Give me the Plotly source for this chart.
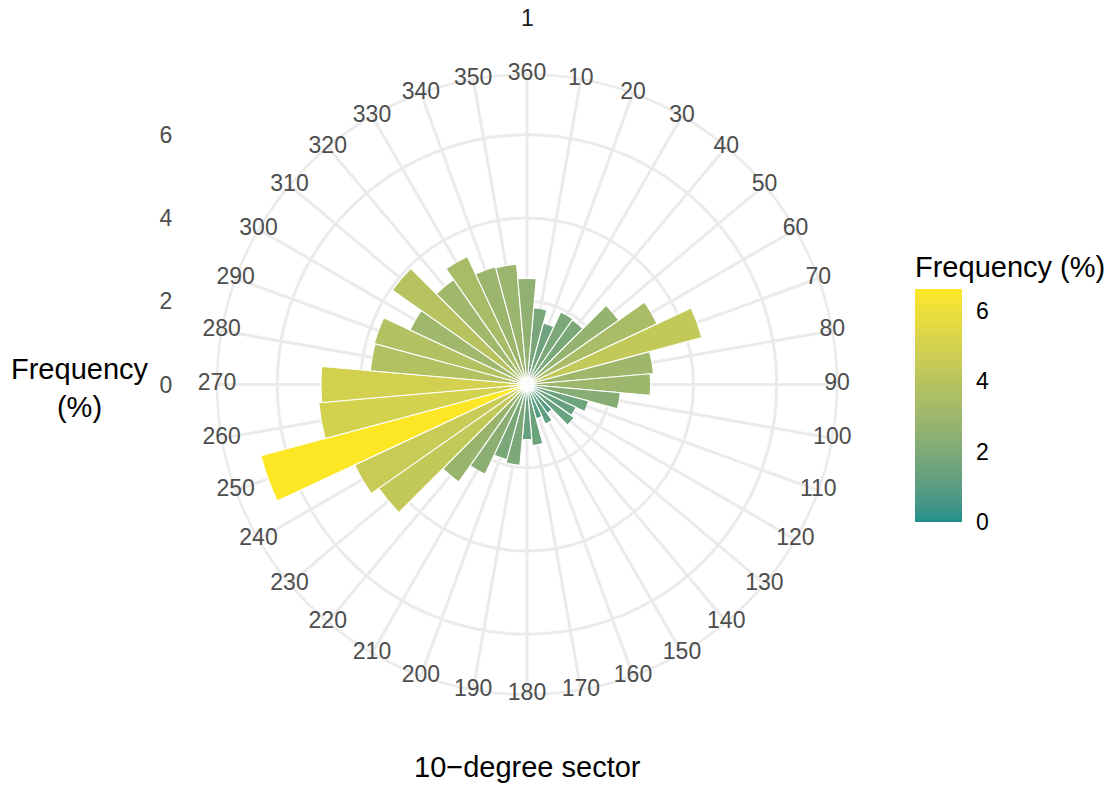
import plotly.graph_objects as go

# ---------------- data ----------------
sectors = [10, 20, 30, 40, 50, 60, 70, 80, 90, 100, 110, 120,
           130, 140, 150, 160, 170, 180, 190, 200, 210, 220, 230, 240,
           250, 260, 270, 280, 290, 300, 310, 320, 330, 340, 350, 360]
sector_labels = [str(s) for s in sectors]
frequency = [1.85, 1.53, 1.92, 1.90, 2.69, 3.45, 4.35, 3.05, 2.97, 2.25, 1.53, 1.30,
             1.38, 0.85, 1.05, 0.85, 1.47, 1.32, 1.95, 1.87, 2.38, 2.86, 4.35, 4.57,
             6.62, 5.02, 4.95, 3.78, 3.80, 3.10, 3.95, 3.08, 3.39, 2.93, 2.90, 2.55]
radial_ticks = [0, 2, 4, 6]
colorbar_ticks = [0, 2, 4, 6]
facet_label = "1"

# ---------------- colour scale (Lab interpolation, like ggplot gradient) ----------------
def _srgb_to_lin(c):
    c = c / 255.0
    return c / 12.92 if c <= 0.04045 else ((c + 0.055) / 1.055) ** 2.4

def _lin_to_srgb(c):
    c = max(0.0, min(1.0, c))
    v = 12.92 * c if c <= 0.0031308 else 1.055 * c ** (1 / 2.4) - 0.055
    return int(round(max(0, min(1, v)) * 255))

_WX, _WY, _WZ = 0.95047, 1.0, 1.08883

def hex_to_lab(h):
    h = h.lstrip('#')
    r, g, b = [_srgb_to_lin(int(h[i:i + 2], 16)) for i in (0, 2, 4)]
    X = 0.4124 * r + 0.3576 * g + 0.1805 * b
    Y = 0.2126 * r + 0.7152 * g + 0.0722 * b
    Z = 0.0193 * r + 0.1192 * g + 0.9505 * b
    def f(t):
        return t ** (1 / 3) if t > 0.008856 else 7.787 * t + 16 / 116
    fx, fy, fz = f(X / _WX), f(Y / _WY), f(Z / _WZ)
    return 116 * fy - 16, 500 * (fx - fy), 200 * (fy - fz)

def lab_to_hex(L, a, b):
    fy = (L + 16) / 116
    fx = fy + a / 500
    fz = fy - b / 200
    def finv(t):
        return t ** 3 if t ** 3 > 0.008856 else (t - 16 / 116) / 7.787
    X, Y, Z = _WX * finv(fx), _WY * finv(fy), _WZ * finv(fz)
    r = 3.2406 * X - 1.5372 * Y - 0.4986 * Z
    g = -0.9689 * X + 1.8758 * Y + 0.0415 * Z
    bb = 0.0557 * X - 0.2040 * Y + 1.0570 * Z
    return '#%02X%02X%02X' % (_lin_to_srgb(r), _lin_to_srgb(g), _lin_to_srgb(bb))

low_col, high_col = "#21908C", "#FDE725"
l0, l1 = hex_to_lab(low_col), hex_to_lab(high_col)
n_stops = 21
colorscale = []
for i in range(n_stops):
    t = i / (n_stops - 1)
    lab = [l0[k] + (l1[k] - l0[k]) * t for k in range(3)]
    colorscale.append([t, lab_to_hex(*lab)])

# ---------------- geometry ----------------
W, H = 1118, 788
cx, cy, R = 527, 384.5, 310          # centre & outer radius in px
vmax = max(frequency)
rmax = vmax * 0.45 / 0.4             # ggplot coord_polar outer ring
xdom = [(cx - R) / W, (cx + R) / W]
ydom = [(H - cy - R) / H, (H - cy + R) / H]

grid_col = "#EBEBEB"
grid_w = 2.6
FONT = "Liberation Sans, Arial, Helvetica, sans-serif"
TICK = 23
TITLE = 29

# colour bar placement (px)
cb_left, cb_top, cb_bottom, cb_thick, cb_title_h = 915, 290, 522, 47, 38

fig = go.Figure()

fig.add_trace(go.Barpolar(
    r=frequency,
    theta=sectors,
    width=[10] * len(sectors),
    marker=dict(
        color=frequency,
        colorscale=colorscale,
        cmin=0, cmax=vmax,
        line=dict(color="white", width=1.1),
        colorbar=dict(
            tickvals=colorbar_ticks, showticklabels=False,
            ticks="inside", ticklen=9, tickcolor="white", tickwidth=1.5,
            thickness=cb_thick, thicknessmode="pixels",
            len=cb_bottom - cb_top, lenmode="pixels",
            x=cb_left / W, xanchor="left", xpad=0,
            y=1 - (cb_top + cb_bottom) / 2 / H, yanchor="middle", ypad=0,
            outlinewidth=0,
        ),
    ),
    hoverinfo="r+theta",
    showlegend=False,
))

# angular tick labels centred on the outer ring (ggplot style)
fig.add_trace(go.Scatterpolar(
    r=[rmax] * len(sectors),
    theta=sectors,
    text=sector_labels,
    mode="text",
    textposition="middle center",
    textfont=dict(size=TICK, color="#4D4D4D", family=FONT),
    cliponaxis=False,
    hoverinfo="skip",
    showlegend=False,
))

# invisible cartesian trace: draws the left radial axis and the labelled colour bar
fig.add_trace(go.Scatter(
    x=[0.5], y=[0], mode="markers",
    marker=dict(
        color=[0], colorscale=colorscale, cmin=0, cmax=vmax, showscale=True,
        opacity=0, size=1,
        colorbar=dict(
            title=dict(text="Frequency (%)", side="top",
                       font=dict(size=TITLE, color="black", family=FONT)),
            tickvals=colorbar_ticks,
            ticktext=[str(v) for v in colorbar_ticks],
            tickfont=dict(size=TICK, color="black", family=FONT),
            ticks="outside", ticklen=10, tickcolor="rgba(0,0,0,0)",
            thickness=cb_thick, thicknessmode="pixels",
            len=(cb_bottom - cb_top) + cb_title_h, lenmode="pixels",
            x=cb_left / W, xanchor="left", xpad=0,
            y=1 - ((cb_top - cb_title_h) + cb_bottom) / 2 / H, yanchor="middle", ypad=0,
            outlinewidth=0,
        ),
    ),
    hoverinfo="skip", showlegend=False,
))

fig.update_layout(
    template="none",
    width=W, height=H,
    margin=dict(l=0, r=0, t=0, b=0),
    paper_bgcolor="white",
    plot_bgcolor="rgba(0,0,0,0)",
    font=dict(family=FONT),
    polar=dict(
        domain=dict(x=xdom, y=ydom),
        bgcolor="white",
        radialaxis=dict(
            range=[0, rmax],
            tickmode="array", tickvals=radial_ticks[1:],
            showticklabels=False, ticks="",
            showgrid=True, gridcolor=grid_col, gridwidth=grid_w,
            showline=False, layer="below traces",
        ),
        angularaxis=dict(
            type="linear", thetaunit="degrees",
            direction="clockwise", rotation=90,
            tickmode="array", tickvals=sectors,
            showticklabels=False, ticks="",
            showgrid=True, gridcolor=grid_col, gridwidth=grid_w,
            showline=True, linecolor=grid_col, linewidth=grid_w,
            layer="below traces",
        ),
    ),
    xaxis=dict(domain=[0.155, 0.19], range=[0, 1], visible=False, fixedrange=True),
    yaxis=dict(
        domain=ydom, anchor="x", range=[-rmax, rmax],
        tickmode="array", tickvals=radial_ticks,
        ticktext=[str(v) for v in radial_ticks],
        tickfont=dict(size=TICK, color="#4D4D4D", family=FONT),
        showgrid=False, zeroline=False, showline=False, ticks="",
        fixedrange=True,
    ),
    annotations=[
        dict(text=facet_label, x=cx / W, y=1 - 18 / H, xref="paper", yref="paper",
             showarrow=False, xanchor="center", yanchor="middle",
             font=dict(size=TICK, color="#1A1A1A", family=FONT)),
        dict(text="Frequency<br>(%)", x=80 / W, y=1 - 388 / H, xref="paper", yref="paper",
             showarrow=False, xanchor="center", yanchor="middle", align="center",
             font=dict(size=TITLE, color="black", family=FONT)),
        dict(text="10\u2212degree sector", x=cx / W, y=1 - 767 / H, xref="paper", yref="paper",
             showarrow=False, xanchor="center", yanchor="middle",
             font=dict(size=TITLE, color="black", family=FONT)),
    ],
)

fig.write_html("out.html", config={"displayModeBar": False},
               post_script="document.body.style.margin='0px';")
